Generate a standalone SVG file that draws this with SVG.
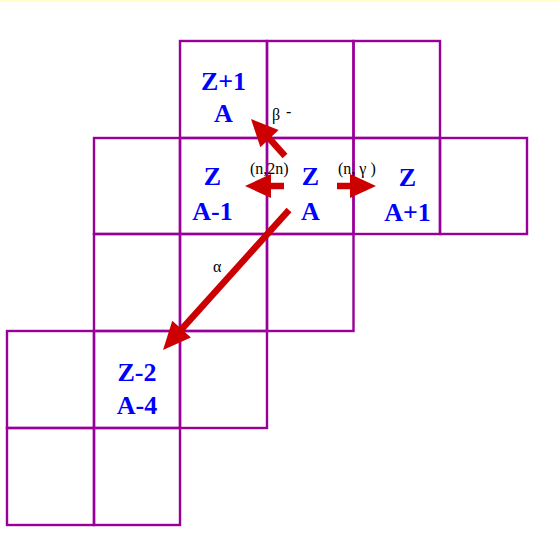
<svg xmlns="http://www.w3.org/2000/svg" width="559" height="544" viewBox="0 0 559 544">
<style>
.cell{fill:none;stroke:#990099;stroke-width:2.4}
.nuc{font-family:"Liberation Serif",serif;font-weight:bold;font-size:26px;fill:#0000ff;text-anchor:middle}
.lbl{font-family:"Liberation Serif",serif;font-size:16px;fill:#000}
.arr{stroke:#cc0000;stroke-width:6.5;fill:none}
.head{fill:#cc0000;stroke:none}
</style>
<rect x="0" y="0" width="559" height="2" fill="#ffffcc"/>
<g id="grid">
<rect class="cell" x="180" y="41" width="87" height="97"/>
<rect class="cell" x="267" y="41" width="86.5" height="97"/>
<rect class="cell" x="353.5" y="41" width="86.5" height="97"/>
<rect class="cell" x="94" y="138" width="86" height="96"/>
<rect class="cell" x="180" y="138" width="87" height="96"/>
<rect class="cell" x="267" y="138" width="86.5" height="96"/>
<rect class="cell" x="353.5" y="138" width="86.5" height="96"/>
<rect class="cell" x="440" y="138" width="87" height="96"/>
<rect class="cell" x="94" y="234" width="86" height="97"/>
<rect class="cell" x="180" y="234" width="87" height="97"/>
<rect class="cell" x="267" y="234" width="86.5" height="97"/>
<rect class="cell" x="7" y="331" width="87" height="97"/>
<rect class="cell" x="94" y="331" width="86" height="97"/>
<rect class="cell" x="180" y="331" width="87" height="97"/>
<rect class="cell" x="7" y="428" width="87" height="97"/>
<rect class="cell" x="94" y="428" width="86" height="97"/>
</g>
<g id="n-z1-a"><text class="nuc" x="223.5" y="90">Z+1</text><text class="nuc" x="223.5" y="122">A</text></g>
<g id="n-z-a-1"><text class="nuc" x="212.5" y="185">Z</text><text class="nuc" x="212.5" y="220">A-1</text></g>
<g id="n-z-a"><text class="nuc" x="310.5" y="185">Z</text><text class="nuc" x="310.5" y="220">A</text></g>
<g id="n-z-a1"><text class="nuc" x="407.5" y="186">Z</text><text class="nuc" x="407.5" y="220.5">A+1</text></g>
<g id="n-z2-a4"><text class="nuc" x="137" y="381">Z-2</text><text class="nuc" x="137" y="414">A-4</text></g>
<g id="connectors">
<line class="arr" x1="285" y1="156" x2="268" y2="137"/>
<polygon class="head" points="251,119 278.6,130 260.4,147.2"/>
<line class="arr" x1="284" y1="186" x2="269" y2="186"/>
<polygon class="head" points="245,186 271,174 271,198"/>
<line class="arr" x1="337" y1="186" x2="352" y2="186"/>
<polygon class="head" points="376,186 350,174 350,198"/>
<line class="arr" x1="289" y1="210" x2="180" y2="331"/>
<polygon class="head" points="163,350 190.9,337.4 172.3,320.8"/>
</g>
<g id="labels">
<text class="lbl" x="272" y="120">β</text><text class="lbl" x="286" y="117">-</text>
<text class="lbl" x="250" y="174" font-size="15">(n,2n)</text>
<text class="lbl" x="338" y="174" font-size="15">(n, γ )</text>
<text class="lbl" x="213" y="272">α</text>
</g>
</svg>
